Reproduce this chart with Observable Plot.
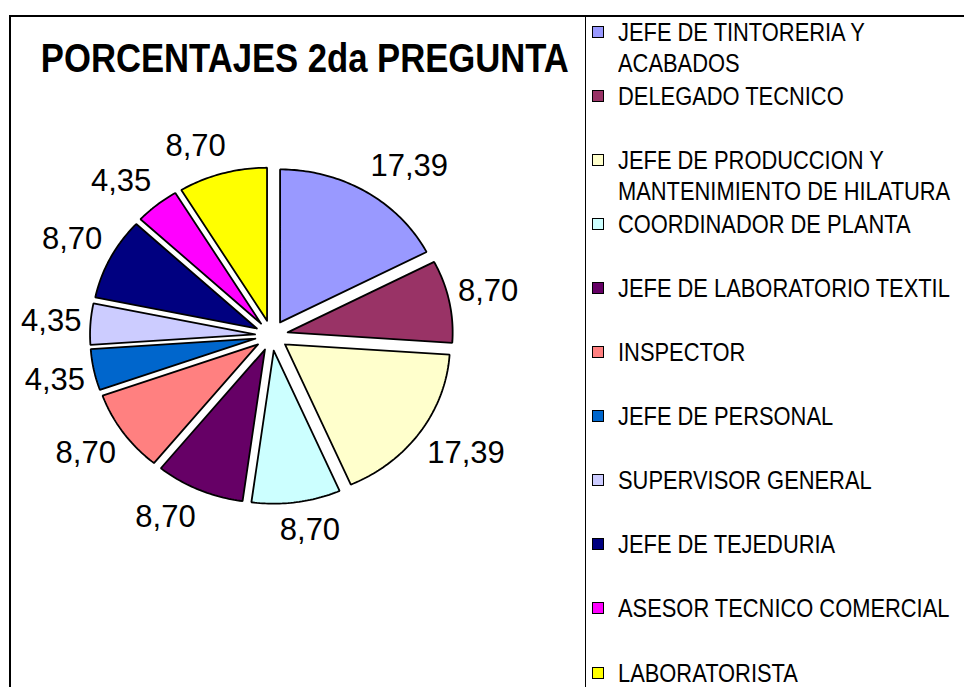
<!DOCTYPE html>
<html>
<head>
<meta charset="utf-8">
<script src="https://cdn.jsdelivr.net/npm/d3@7"></script>
<script src="https://cdn.jsdelivr.net/npm/@observablehq/plot@0.6"></script>
<style>
  body { margin: 0; background: #fff; }
  #wrap { position: relative; width: 964px; height: 687px; overflow: hidden;
          font-family: "Liberation Sans", Arial, sans-serif; background: #fff; }
  #plot { position: absolute; left: 0; top: 0; }
  .frame-left { position: absolute; left: 9px; top: 15px; width: 2px; height: 700px; background: #000; }
  .frame-top { position: absolute; left: 9px; top: 15px; width: 955px; height: 2px; background: #000; }
  .divider { position: absolute; left: 585px; top: 16px; width: 1px; height: 700px; background: #000; }
  #title { position: absolute; left: 0; top: 38px; width: 606px; text-align: center;
           font-size: 40px; line-height: 40px; font-weight: bold; color: #000; white-space: nowrap; }
  #title span { display: inline-block; transform: scaleX(0.866); transform-origin: center; }
  .entry { position: absolute; left: 592px; }
  .swatch { position: absolute; left: 0; top: 9px; width: 10px; height: 10px; border: 1.5px solid #000; }
  .txt { position: absolute; left: 26px; top: 0; font-size: 25px; line-height: 31px; color: #000;
         white-space: nowrap; transform: scaleX(0.875); transform-origin: left top; }
</style>
</head>
<body>
<div id="wrap">
  <div id="plot"></div>
  <div class="frame-left"></div>
  <div class="frame-top"></div>
  <div class="divider"></div>
  <div id="title"><span>PORCENTAJES 2da PREGUNTA</span></div>
  <div id="legend"></div>
</div>
<script>
// ---- data ----
const categories = [
  "JEFE DE TINTORERIA Y\nACABADOS",
  "DELEGADO TECNICO",
  "JEFE DE PRODUCCION Y\nMANTENIMIENTO DE HILATURA",
  "COORDINADOR DE PLANTA",
  "JEFE DE LABORATORIO TEXTIL",
  "INSPECTOR",
  "JEFE DE PERSONAL",
  "SUPERVISOR GENERAL",
  "JEFE DE TEJEDURIA",
  "ASESOR TECNICO COMERCIAL",
  "LABORATORISTA"
];
const values = [17.39, 8.70, 17.39, 8.70, 8.70, 8.70, 4.35, 4.35, 8.70, 4.35, 8.70];
const colors = ["#9999FF", "#993366", "#FFFFCC", "#CCFFFF", "#660066", "#FF8080",
                "#0066CC", "#CCCCFF", "#000080", "#FF00FF", "#FFFF00"];
const valueLabels = values.map(v => v.toFixed(2).replace(".", ","));

// ---- geometry (pie drawn in unit-radius data space, ellipse via scales) ----
const W = 585, H = 687;
const cx = 271, cy = 335, rx = 165, ry = 153;
const explode = 0.1;
const labelFont = 31;
const gapX = 9, gapY = 17;      // px beyond the exploded rim
const clamp = v => Math.max(-1, Math.min(1, v));
const textWidth = s => [...s].reduce((w, c) => w + (c === "," ? 0.278 : 0.556), 0) * labelFont;
const textHeight = 0.716 * labelFont;

const arcs = d3.pie().sort(null).value(d => d)(values);
const slicePts = [];
const labelPts = [];
arcs.forEach((a, i) => {
  const m = (a.startAngle + a.endAngle) / 2;
  const s = Math.sin(m), c = Math.cos(m);
  const ox = explode * s, oy = explode * c;
  const n = Math.max(2, Math.ceil((a.endAngle - a.startAngle) / (Math.PI / 180)));
  slicePts.push({k: i, x: ox, y: oy});
  for (let j = 0; j <= n; j++) {
    const t = a.startAngle + (a.endAngle - a.startAngle) * j / n;
    slicePts.push({k: i, x: ox + Math.sin(t), y: oy + Math.cos(t)});
  }
  slicePts.push({k: i, x: ox, y: oy});
  // label: anchor just outside the rim, box pushed outward by its half size
  const w = textWidth(valueLabels[i]), h = textHeight;
  const px = (1 + explode) * rx * s + gapX * s + (w / 2) * clamp(3 * s);
  const py = (1 + explode) * ry * c + gapY * c + (h / 2) * clamp(3 * c);
  labelPts.push({x: px / rx, y: py / ry, t: valueLabels[i]});
});

const chart = Plot.plot({
  width: W,
  height: H,
  margin: 0,
  style: {fontFamily: "'Liberation Sans', Arial, sans-serif", background: "transparent", overflow: "visible"},
  x: {domain: [-cx / rx, (W - cx) / rx], range: [0, W], axis: null},
  y: {domain: [-(H - cy) / ry, cy / ry], range: [H, 0], axis: null},
  color: {type: "identity"},
  marks: [
    Plot.line(slicePts, {
      x: "x", y: "y", z: "k",
      fill: d => colors[d.k],
      stroke: "black", strokeWidth: 1.8, strokeLinejoin: "miter", curve: "linear"
    }),
    Plot.text(labelPts, {x: "x", y: "y", text: "t", fontSize: labelFont, fill: "black"})
  ]
});
document.getElementById("plot").appendChild(chart);

// ---- legend ----
const legend = document.getElementById("legend");
categories.forEach((name, i) => {
  const e = document.createElement("div");
  e.className = "entry";
  e.style.top = (32 + i * 64.1 - 15.5) + "px";
  const sw = document.createElement("div");
  sw.className = "swatch";
  sw.style.background = colors[i];
  const tx = document.createElement("div");
  tx.className = "txt";
  tx.innerHTML = name.split("\n").join("<br>");
  e.appendChild(sw);
  e.appendChild(tx);
  legend.appendChild(e);
});
</script>
</body>
</html>
